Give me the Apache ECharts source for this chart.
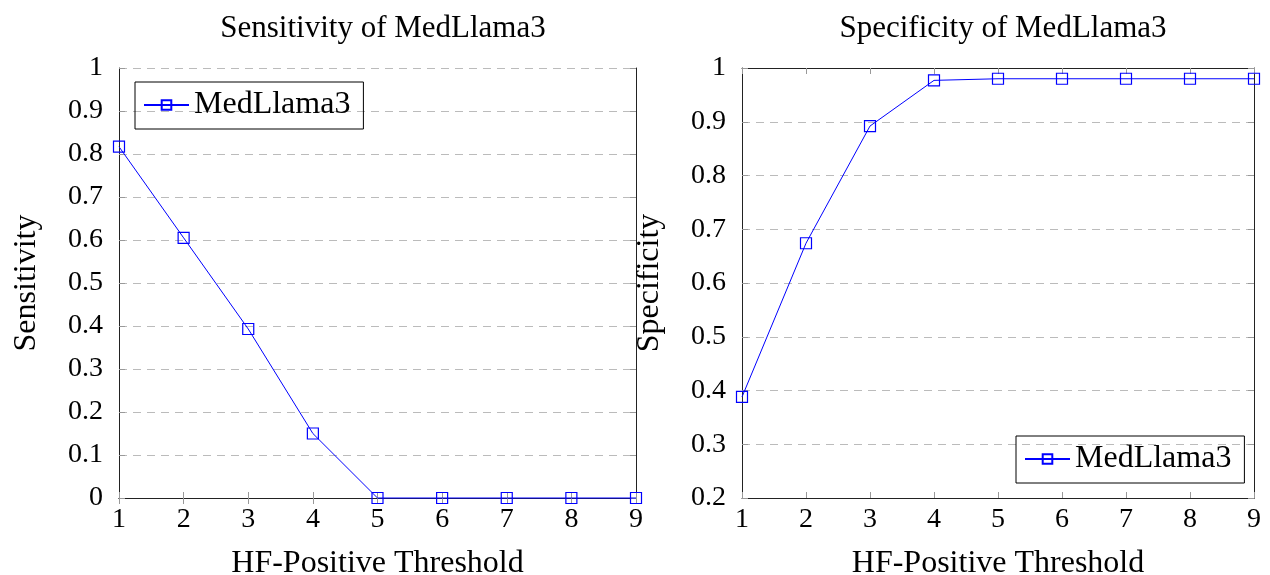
<!DOCTYPE html>
<html><head><meta charset="utf-8">
<script src="https://cdn.jsdelivr.net/npm/echarts@6/dist/echarts.min.js"></script>
<style>html,body{margin:0;padding:0;background:#fff}#c{width:1270px;height:575px}</style>
</head><body><div id="c"></div>
<script>
const thresholds = [1, 2, 3, 4, 5, 6, 7, 8, 9];
const sensitivity = [0.817, 0.605, 0.393, 0.150, 0, 0, 0, 0, 0];
const specificity = [0.388, 0.674, 0.892, 0.977, 0.980, 0.980, 0.980, 0.980, 0.980];
const seriesName = 'MedLlama3';
const titles = ['Sensitivity of MedLlama3', 'Specificity of MedLlama3'];
const yNames = ['Sensitivity', 'Specificity'];
const xName = 'HF-Positive Threshold';

const FONT = 'Liberation Serif';
const chart = echarts.init(document.getElementById('c'));
const grids = [
  {left: 119, right: 634, top: 68, bottom: 77, outerBoundsMode: 'none', containLabel: false},
  {left: 742, right: 16, top: 68, bottom: 77, outerBoundsMode: 'none', containLabel: false}
];
const yRanges = [[0, 1], [0.2, 1]];
const xAxes = [], yAxes = [], series = [];
grids.forEach((g, i) => {
  xAxes.push({
    type: 'value', gridIndex: i, min: 1, max: 9, interval: 1,
    name: xName, nameLocation: 'middle', nameGap: 50,
    nameTextStyle: {fontFamily: FONT, fontSize: 32, color: '#000'},
    axisLine: {show: true, lineStyle: {color: '#222', width: 1}},
    axisTick: {show: true, inside: true, length: 6, lineStyle: {color: '#999'}},
    axisLabel: {fontFamily: FONT, fontSize: 28, color: '#000', margin: 8},
    splitLine: {show: false}
  });
  xAxes.push({
    type: 'value', gridIndex: i, min: 1, max: 9, interval: 1, position: 'top',
    axisLine: {show: true, lineStyle: {color: '#222', width: 1}},
    axisTick: {show: true, inside: true, length: 6, lineStyle: {color: '#999'}},
    axisLabel: {show: false}, splitLine: {show: false}
  });
  yAxes.push({
    type: 'value', gridIndex: i, min: yRanges[i][0], max: yRanges[i][1], interval: 0.1,
    name: yNames[i], nameLocation: 'middle', nameGap: 76, nameRotate: 90,
    nameTextStyle: {fontFamily: FONT, fontSize: 32, color: '#000'},
    axisLine: {show: true, lineStyle: {color: '#222', width: 1}},
    axisTick: {show: true, inside: true, length: 6, lineStyle: {color: '#999'}},
    axisLabel: {fontFamily: FONT, fontSize: 28, color: '#000', margin: 16,
      formatter: v => String(Math.round(v * 10) / 10)},
    splitLine: {show: true, lineStyle: {color: '#bbb', type: [8, 6], width: 1}}
  });
  yAxes.push({
    type: 'value', gridIndex: i, min: yRanges[i][0], max: yRanges[i][1], interval: 0.1, position: 'right',
    axisLine: {show: true, lineStyle: {color: '#222', width: 1}},
    axisTick: {show: true, inside: true, length: 6, lineStyle: {color: '#999'}},
    axisLabel: {show: false}, splitLine: {show: false}
  });
  const vals = i === 0 ? sensitivity : specificity;
  series.push({
    type: 'line', name: seriesName, xAxisIndex: i * 2, yAxisIndex: i * 2,
    data: thresholds.map((t, k) => [t, vals[k]]),
    symbol: 'rect', symbolSize: 11, showSymbol: true,
    lineStyle: {color: '#0000ff', width: 1},
    itemStyle: {color: 'rgba(255,255,255,0)', borderColor: '#0000ff', borderWidth: 1.2},
    emphasis: {disabled: true}, animation: false, clip: false
  });
});
const legendBase = {
  data: [seriesName], orient: 'vertical', itemWidth: 45, itemHeight: 12, itemGap: 0,
  borderColor: '#000', borderWidth: 1, padding: [7, 13, 8, 8], borderRadius: 0,
  textStyle: {fontFamily: FONT, fontSize: 32, color: '#000'}
};
chart.setOption({
  backgroundColor: '#fff',
  animation: false,
  title: [
    {text: titles[0], left: 378, top: 8, textAlign: 'center', textStyle: {fontFamily: FONT, fontSize: 31, fontWeight: 'normal', color: '#000'}},
    {text: titles[1], left: 998, top: 8, textAlign: 'center', textStyle: {fontFamily: FONT, fontSize: 31, fontWeight: 'normal', color: '#000'}}
  ],
  legend: [
    Object.assign({}, legendBase, {left: 135, top: 82}),
    Object.assign({}, legendBase, {left: 1016, top: 436})
  ],
  grid: grids,
  xAxis: xAxes,
  yAxis: yAxes,
  series: series
});
</script></body></html>
